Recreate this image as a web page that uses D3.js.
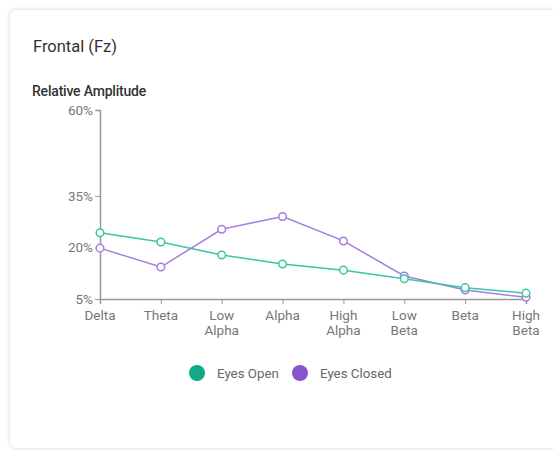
<!DOCTYPE html>
<html>
<head>
<meta charset="utf-8">
<script src="https://cdn.jsdelivr.net/npm/d3@7"></script>
<style>
  html, body { margin: 0; padding: 0; background: #fff; }
  body { width: 553px; height: 451px; overflow: hidden; font-family: Roboto, "Noto Sans", sans-serif; }
  .card { position: absolute; left: 10px; top: 10px; width: 580px; height: 438px; background: #fff;
          border-radius: 6px; box-shadow: 0 0 4px rgba(0,0,0,0.18); }
  svg { position: absolute; left: 0; top: 0; }
</style>
</head>
<body>
<div class="card"></div>
<svg id="chart" width="553" height="451"></svg>
<script>
const categories = [["Delta"], ["Theta"], ["Low", "Alpha"], ["Alpha"], ["High", "Alpha"], ["Low", "Beta"], ["Beta"], ["High", "Beta"]];
const eyesOpen   = [24.3, 21.6, 17.8, 15.2, 13.4, 10.9, 8.3, 6.7];
const eyesClosed = [19.8, 14.3, 25.3, 29.0, 21.9, 11.7, 7.6, 5.5];
const yTicks = [5, 20, 35, 60];
const seriesNames = ["Eyes Open", "Eyes Closed"];
const lineColors = ["#3cc6a4", "#a57ddf"];
const legendColors = ["#12a88a", "#8754cc"];

const svg = d3.select("#chart");
svg.append("text").attr("x", 33).attr("y", 52).attr("font-size", 16.5).attr("fill", "#333")
  .text("Frontal (Fz)");
svg.append("text").attr("x", 32).attr("y", 96).attr("font-size", 14).attr("font-weight", 500).attr("fill", "#333")
  .attr("letter-spacing", -0.2)
  .text("Relative Amplitude");

const idx = d3.range(categories.length);
const x = d3.scalePoint().domain(idx).range([100, 526]).padding(0);
const y = d3.scaleLinear().domain([5, 60]).range([299, 110]);

const gy = svg.append("g").attr("transform", "translate(100,0)")
  .call(d3.axisLeft(y).tickValues(yTicks).tickFormat(d => d + "%").tickSize(5).tickPadding(2));
const gx = svg.append("g").attr("transform", "translate(0,299)")
  .call(d3.axisBottom(x).tickSize(5).tickPadding(2).tickFormat(""));
[gy, gx].forEach(g => {
  g.select(".domain").attr("stroke", "#999").attr("stroke-width", 1.5);
  g.selectAll(".tick line").attr("stroke", "#999");
  g.selectAll("text").attr("fill", "#777").attr("font-size", 13.5).attr("font-family", "Roboto, sans-serif");
});
gy.select(".domain").attr("d", "M-4,110.5H0.5V299.5");

// x labels (multi-line)
const xl = svg.append("g");
idx.forEach(i => {
  const t = xl.append("text").attr("x", x(i)).attr("y", 320).attr("text-anchor", "middle")
    .attr("font-size", 13.5).attr("fill", "#777");
  categories[i].forEach((w, k) => t.append("tspan").attr("x", x(i)).attr("dy", k === 0 ? 0 : 15).text(w));
});

const line = d3.line().x((d, i) => x(i)).y(d => y(d));
[eyesClosed, eyesOpen].forEach((data, j) => {
  const c = j === 0 ? lineColors[1] : lineColors[0];
  svg.append("path").datum(data).attr("d", line).attr("fill", "none").attr("stroke", c).attr("stroke-width", 1.5);
  svg.append("g").selectAll("circle").data(data).join("circle")
    .attr("cx", (d, i) => x(i)).attr("cy", d => y(d)).attr("r", 3.8)
    .attr("fill", "#fff").attr("stroke", c).attr("stroke-width", 1.5);
});

// legend
const lg = svg.append("g");
const legX = [197, 300];
seriesNames.forEach((n, i) => {
  lg.append("circle").attr("cx", legX[i]).attr("cy", 373).attr("r", 8).attr("fill", legendColors[i]);
  lg.append("text").attr("x", legX[i] + 20).attr("y", 377.5).attr("font-size", 13.3).attr("fill", "#666").text(n);
});
</script>
</body>
</html>
